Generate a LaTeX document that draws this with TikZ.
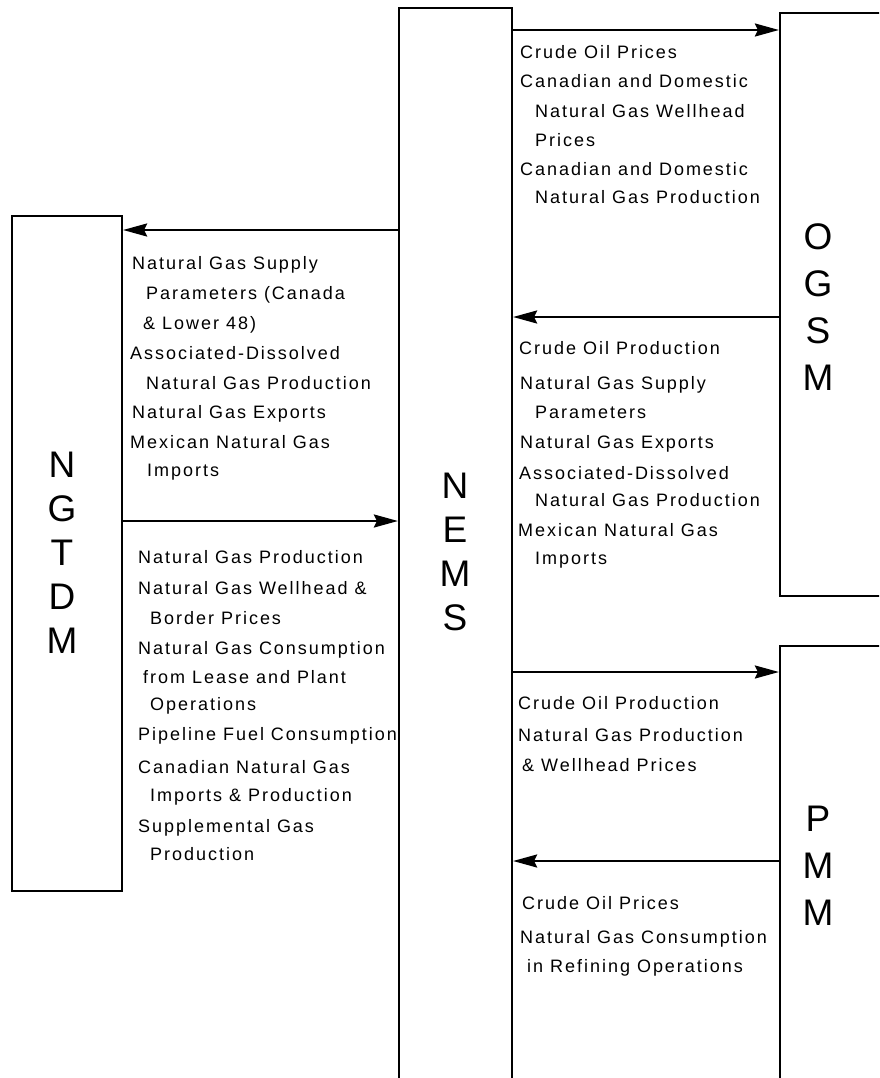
\documentclass[tikz,border=0pt]{standalone}
\usepackage{fontspec}
\setmainfont{Liberation Sans}
\newfontfamily\smallfont{Liberation Sans}[LetterSpace=11]
\usetikzlibrary{arrows.meta}
\begin{document}
\begin{tikzpicture}[x=1pt,y=-1pt,
  box/.style={draw, line width=2.2pt, inner sep=0pt, rectangle},
  arr/.style={line width=2.2pt, -{Stealth[length=24pt,width=13pt,inset=3pt]}},
  txt/.style={anchor=base west, inner sep=0pt, font=\smallfont\fontsize{18}{20}\selectfont},
  big/.style={inner sep=0pt, align=center}]
\clip (0,0) rectangle (879,1078);
% boxes
\node[box, minimum width=110pt, minimum height=675pt] (ngtdm) at (67,553.5) {};
\node[box, minimum width=113pt, minimum height=1092pt] (nems) at (455.5,554) {};
\node[box, minimum width=120pt, minimum height=583pt] (ogsm) at (840,304.5) {};
\node[box, minimum width=120pt, minimum height=454pt] (pmm) at (840,873) {};
% big labels
\node[big, font=\fontsize{37}{44}\selectfont] (ngtdmL) at (62,553) {N\\G\\T\\D\\M};
\node[big, font=\fontsize{37}{44}\selectfont] (nemsL) at (455,552) {N\\E\\M\\S};
\node[big, font=\fontsize{37}{47}\selectfont] (ogsmL) at (818,307) {O\\G\\S\\M};
\node[big, font=\fontsize{37}{47}\selectfont] (pmmL) at (818,866) {P\\M\\M};
% connector levels
\coordinate (y1) at (0,30);
\coordinate (y2) at (0,230);
\coordinate (y3) at (0,317);
\coordinate (y4) at (0,521);
\coordinate (y5) at (0,672);
\coordinate (y6) at (0,861);
\draw[arr] (nems.east |- y1) -- (ogsm.west |- y1);
\draw[arr] (nems.west |- y2) -- (ngtdm.east |- y2);
\draw[arr] (ogsm.west |- y3) -- (nems.east |- y3);
\draw[arr] (ngtdm.east |- y4) -- (nems.west |- y4);
\draw[arr] (nems.east |- y5) -- (pmm.west |- y5);
\draw[arr] (pmm.west |- y6) -- (nems.east |- y6);
% texts
\foreach \n/\x/\y/\t in {
  a1/520/59/{Crude Oil Prices},
  a2/520/88/{Canadian and Domestic},
  a3/535/118/{Natural Gas Wellhead},
  a4/535/147/{Prices},
  a5/520/176/{Canadian and Domestic},
  a6/535/204/{Natural Gas Production},
  b1/132/269/{Natural Gas Supply},
  b2/146/299/{Parameters (Canada},
  b3/143/329/{\& Lower 48)},
  b4/130/359/{Associated-Dissolved},
  b5/146/389/{Natural Gas Production},
  b6/132/418/{Natural Gas Exports},
  b7/130/448/{Mexican Natural Gas},
  b8/147/476/{Imports},
  c1/519/354/{Crude Oil Production},
  c2/520/389/{Natural Gas Supply},
  c3/535/418/{Parameters},
  c4/520/448/{Natural Gas Exports},
  c5/519/479/{Associated-Dissolved},
  c6/535/506/{Natural Gas Production},
  c7/518/536/{Mexican Natural Gas},
  c8/535/564/{Imports},
  d1/138/563/{Natural Gas Production},
  d2/138/594/{Natural Gas Wellhead \&},
  d3/150/624/{Border Prices},
  d4/138/654/{Natural Gas Consumption},
  d5/143/683/{from Lease and Plant},
  d6/150/710/{Operations},
  d7/138/740/{Pipeline Fuel Consumption},
  d8/138/773/{Canadian Natural Gas},
  d9/150/801/{Imports \& Production},
  d10/138/832/{Supplemental Gas},
  d11/150/860/{Production},
  e1/518/709/{Crude Oil Production},
  e2/518/741/{Natural Gas Production},
  e3/522/771/{\& Wellhead Prices},
  f1/522/909/{Crude Oil Prices},
  f2/520/943/{Natural Gas Consumption},
  f3/527/972/{in Refining Operations}}
  \node[txt] (\n) at (\x,\y) {\t};
\end{tikzpicture}
\end{document}
